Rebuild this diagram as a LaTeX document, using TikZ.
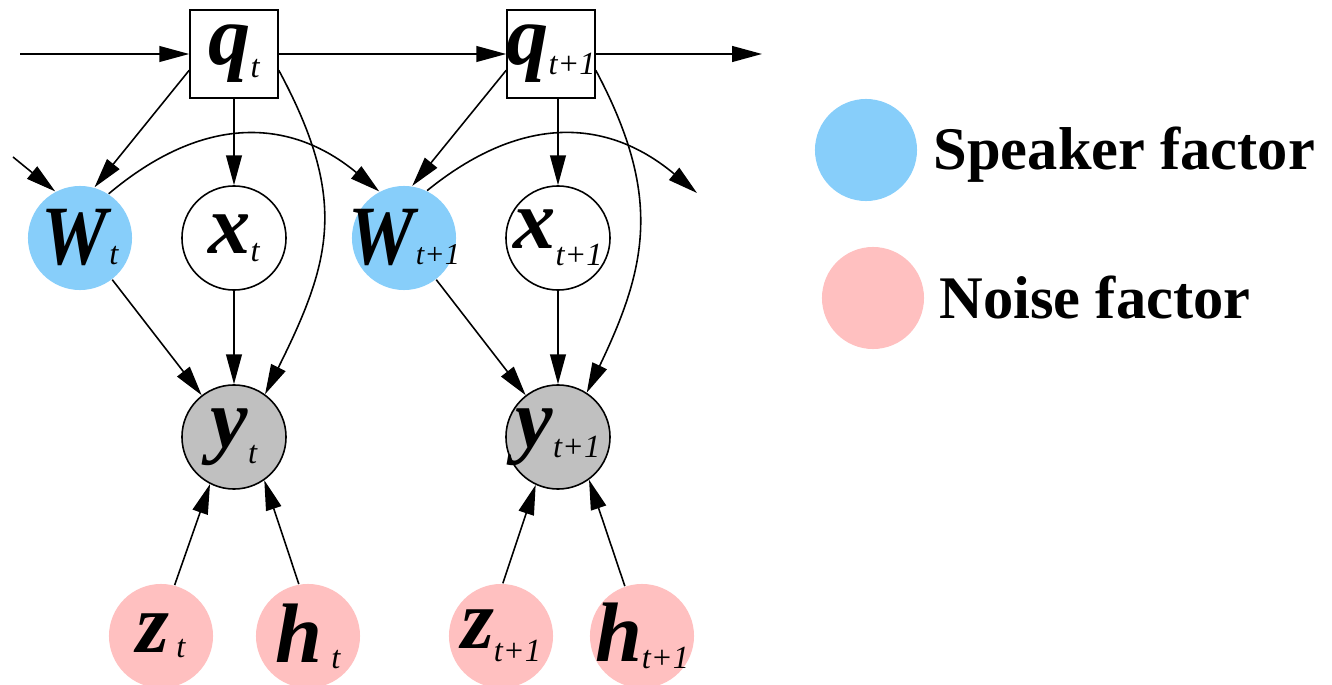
\documentclass[tikz,border=0pt]{standalone}
\usepackage{fontspec}
\setmainfont{Liberation Serif}
\usetikzlibrary{arrows.meta, positioning}
\definecolor{spkblue}{HTML}{87CEFA}
\definecolor{noisepink}{HTML}{FFC0C0}
\definecolor{obsgray}{HTML}{C0C0C0}
\newcommand{\bigvar}[1]{{\fontsize{24pt}{24pt}\selectfont\bfseries\itshape #1}}
\newcommand{\subvar}[1]{{\fontsize{9.2pt}{9.2pt}\selectfont\itshape #1}}
\newcommand{\narrowW}{\scalebox{0.88}[1]{\bigvar{W}}}
\newcommand{\gvar}[1]{\makebox[0pt][c]{#1}}
\tikzset{
  hidden/.style={circle, draw=black, line width=0.45pt, fill=white,
                 minimum size=1.04cm, inner sep=0pt},
  observed/.style={circle, draw=black, line width=0.45pt, fill=obsgray,
                   minimum size=1.04cm, inner sep=0pt},
  speaker/.style={circle, fill=spkblue, minimum size=1.04cm, inner sep=0pt},
  noise/.style={circle, fill=noisepink, minimum size=1.04cm, inner sep=0pt},
  statebox/.style={rectangle, draw=black, line width=0.45pt, fill=white,
                   minimum size=0.88cm, inner sep=0pt},
  legendtext/.style={anchor=base west, inner sep=0pt,
                     font=\fontsize{17.2pt}{17.2pt}\selectfont\bfseries},
  arrow/.style={-{Triangle[length=8.5pt, width=4.5pt]}, line width=0.45pt},
}

\begin{document}
\begin{tikzpicture}[x=0.01cm, y=0.01cm]
  \useasboundingbox (0,0) rectangle (1332,-685);

  % --- State chain ---
  \node[statebox] (qt)  at (234,-54) {\gvar{\bigvar{q}\raisebox{-3.7pt}{\subvar{t}}}};
  \node[statebox] (qt1) at (551,-54) {\gvar{\bigvar{q}\raisebox{-2.6pt}{\subvar{t+1}}}};
  \coordinate (chainin)  at (20,-54);
  \coordinate (chainout) at (762,-54);

  % --- Speaker and latent variables ---
  \node[speaker] (wt)  at (80,-238)  {\gvar{\narrowW\kern0.5pt\subvar{t}}};
  \node[hidden]  (xt)  at (234,-238) {\gvar{\bigvar{x}\raisebox{-2.3pt}{\subvar{t}}}};
  \node[speaker] (wt1) at (404,-238) {\gvar{\narrowW\kern0.5pt{\fontsize{8.6pt}{8.6pt}\selectfont\itshape t+1}}};
  \node[hidden]  (xt1) at (558,-238) {\gvar{\bigvar{x}\raisebox{-4.8pt}{\subvar{t+1}}}};
  \coordinate (win)  at (13,-157);
  \coordinate (wout) at (697,-193);

  % --- Observations ---
  \node[observed] (yt)  at (234,-437) {\gvar{\bigvar{y}\raisebox{-4.5pt}{\subvar{t}}}};
  \node[observed] (yt1) at (558,-437) {\gvar{\bigvar{y}\raisebox{-2.8pt}{\subvar{t+1}}}};

  % --- Noise factors ---
  \node[noise] (zt)  at (161,-636) {\gvar{\bigvar{z}\kern2pt\raisebox{-1.5pt}{\subvar{t}}}};
  \node[noise] (ht)  at (308,-636) {\gvar{\bigvar{h}\kern2.5pt\raisebox{-1.7pt}{\subvar{t}}}};
  \node[noise] (zt1) at (501,-636) {\gvar{\bigvar{z}\raisebox{-3.7pt}{\subvar{t+1}}}};
  \node[noise] (ht1) at (642,-636) {\gvar{\bigvar{h}\raisebox{-2pt}{\subvar{t+1}}}};

  % --- Legend ---
  \node[speaker, minimum size=1.02cm] (spkdot) at (866,-150) {};
  \node[noise, minimum size=1.02cm]   (noidot) at (873,-298) {};
  \node[legendtext] (spklab) at (933,-170) {Speaker factor};
  \node[legendtext] (noilab) at (939,-319) {Noise factor};

  % --- Arrows ---
  \draw[arrow] (chainin) -- (qt.west);
  \draw[arrow] (qt.east) -- (qt1.west);
  \draw[arrow] (qt1.east) -- (chainout);
  \draw[arrow] (qt.200) -- (wt.74);
  \draw[arrow] (qt1.200) -- (wt1.81);
  \draw[arrow] (qt.south) -- (xt.north);
  \draw[arrow] (qt1.south -| xt1.north) -- (xt1.north);
  \draw[arrow] (qt.-20) .. controls (348,-199) and (332,-260) .. (yt.54);
  \draw[arrow] (qt1.-20) .. controls (662,-195) and (648,-265) .. (yt1.57);
  \draw[arrow] (win) -- (wt.118);
  \draw[arrow] (wt.57) .. controls (201,-116) and (288,-116) .. (wt1.118);
  \draw[arrow] (wt1.64) .. controls (519,-116) and (605,-116) .. (wout);
  \draw[arrow] (wt) -- (yt);
  \draw[arrow] (xt) -- (yt);
  \draw[arrow] (wt1) -- (yt1);
  \draw[arrow] (xt1) -- (yt1);
  \draw[arrow] (zt.75) -- (yt.243);
  \draw[arrow] (ht.100) -- (yt.-55);
  \draw[arrow] (zt1.88) -- (yt1.245);
  \draw[arrow] (ht1.109) -- (yt1.-54);

\end{tikzpicture}
\end{document}
